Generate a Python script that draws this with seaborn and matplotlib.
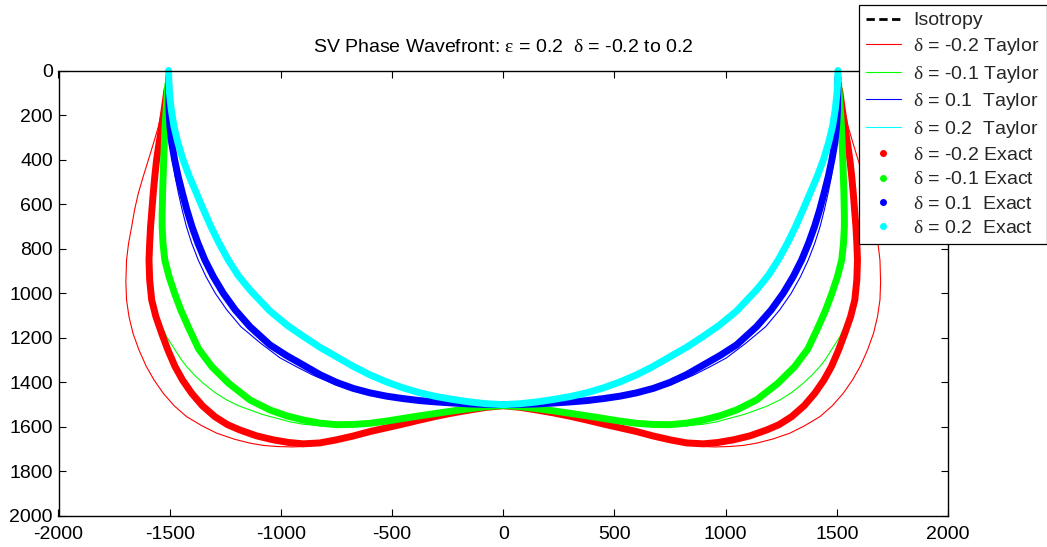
import matplotlib
matplotlib.use('Agg')
import matplotlib.pyplot as plt
import seaborn as sns
import pandas as pd
from matplotlib.lines import Line2D

# ---------------- data ----------------
# delta = 0.2 (cyan) - exact and Taylor coincide
cyan_x = [-1505, -1504, -1501, -1493, -1481, -1463, -1440, -1412, -1380, -1348,
          -1315, -1278, -1237, -1192, -1139, -1049, -970, -900, -825, -750,
          -675, -600, -525, -450, -375, -300, -225, -150, -75, 0] + \
         [75, 150, 225, 300, 375, 450, 525, 600, 675, 750, 825, 900, 970, 1049, 1139,
          1192, 1237, 1278, 1315, 1348, 1380, 1412, 1440, 1463, 1481, 1493, 1501, 1504, 1505]
cyan_z = [0, 50, 100, 175, 250, 325, 400, 475, 550, 625,
          700, 775, 850, 920, 985, 1080, 1145, 1193, 1242, 1285,
          1328, 1366, 1398, 1425, 1447, 1464, 1477, 1488, 1496, 1500] + \
         [1496, 1488, 1477, 1464, 1447, 1425, 1398, 1366, 1328, 1285, 1242, 1193, 1145, 1080, 985,
          920, 850, 775, 700, 625, 550, 475, 400, 325, 250, 175, 100, 50, 0]

# delta = 0.1 (blue) exact
blue_x = [-1505, -1504, -1503, -1499, -1491, -1478, -1462, -1443, -1423, -1400,
          -1373, -1342, -1304, -1259, -1205, -1139, -1049, -974, -900, -825,
          -750, -675, -600, -525, -450, -375, -300, -225, -150, -75, 0] + \
         [75, 150, 225, 300, 375, 450, 525, 600, 675, 750, 825, 900, 974, 1049, 1139,
          1205, 1259, 1304, 1342, 1373, 1400, 1423, 1443, 1462, 1478, 1491, 1499, 1503, 1504, 1505]
blue_z = [30, 100, 175, 250, 325, 400, 475, 550, 625, 700,
          775, 850, 925, 1000, 1075, 1150, 1232, 1280, 1322, 1365,
          1400, 1427, 1447, 1462, 1473, 1482, 1488, 1493, 1497, 1499, 1500] + \
         [1499, 1497, 1493, 1488, 1482, 1473, 1462, 1447, 1427, 1400, 1365, 1322, 1280, 1232, 1150,
          1075, 1000, 925, 850, 775, 700, 625, 550, 475, 400, 325, 250, 175, 100, 30]
# delta = 0.1 (blue) Taylor
blue_t_x = [-1505, -1505, -1505, -1502, -1497, -1488, -1476, -1461, -1444, -1425,
            -1401, -1372, -1337, -1295, -1243, -1180, -1090, -1004, -930, -855,
            -750, -675, -600, -525, -450, -375, -300, -225, -150, -75, 0] + \
           [75, 150, 225, 300, 375, 450, 525, 600, 675, 750, 855, 930, 1004, 1090, 1180,
            1243, 1295, 1337, 1372, 1401, 1425, 1444, 1461, 1476, 1488, 1497, 1502, 1505, 1505, 1505]
blue_t_z = [30, 100, 175, 250, 325, 400, 475, 550, 625, 700,
            775, 850, 925, 1000, 1075, 1150, 1225, 1290, 1330, 1368,
            1412, 1437, 1455, 1468, 1477, 1484, 1489, 1494, 1497, 1499, 1500] + \
           [1499, 1497, 1494, 1489, 1484, 1477, 1468, 1455, 1437, 1412, 1368, 1330, 1290, 1225, 1150,
            1075, 1000, 925, 850, 775, 700, 625, 550, 475, 400, 325, 250, 175, 100, 30]

# delta = -0.1 (green) exact
green_x = [-1508, -1514, -1521, -1527, -1532, -1534, -1534, -1530, -1522, -1503,
           -1478, -1450, -1417, -1370, -1310, -1235, -1139, -1049, -975, -900,
           -825, -750, -675, -600, -525, -450, -375, -300, -225, -150, -75, 0] + \
          [75, 150, 225, 300, 375, 450, 525, 600, 675, 750, 825, 900, 975, 1049, 1139,
           1235, 1310, 1370, 1417, 1450, 1478, 1503, 1522, 1530, 1534, 1534, 1532, 1527, 1521, 1514, 1508]
green_z = [60, 147, 252, 402, 551, 650, 701, 776, 851, 925,
           1000, 1075, 1150, 1250, 1330, 1404, 1479, 1524, 1550, 1569,
           1583, 1590, 1589, 1584, 1574, 1562, 1550, 1539, 1528, 1518, 1509, 1504] + \
          [1509, 1518, 1528, 1539, 1550, 1562, 1574, 1584, 1589, 1590, 1583, 1569, 1550, 1524, 1479,
           1404, 1330, 1250, 1150, 1075, 1000, 925, 851, 776, 701, 650, 551, 402, 252, 147, 60]
# delta = -0.1 (green) Taylor
green_t_x = [-1508, -1520, -1535, -1543, -1551, -1563, -1574, -1586, -1596, -1600,
             -1601, -1597, -1589, -1573, -1552, -1534, -1514, -1476, -1450, -1424,
             -1386, -1349, -1298, -1244, -1190, -1139, -1080, -1019, -960, -900,
             -825, -750, -675, -600, -525, -450, -375, -300, -225, -150, -75, 0] + \
            [75, 150, 225, 300, 375, 450, 525, 600, 675, 750, 825, 900, 960, 1019, 1080,
             1139, 1190, 1244, 1298, 1349, 1386, 1424, 1450, 1476, 1514, 1534, 1552, 1573, 1589, 1597,
             1601, 1600, 1596, 1586, 1574, 1563, 1551, 1543, 1535, 1520, 1508]
green_t_z = [60, 150, 250, 326, 402, 476, 551, 626, 701, 776,
             851, 925, 1000, 1055, 1105, 1150, 1195, 1254, 1295, 1329,
             1370, 1404, 1445, 1479, 1505, 1524, 1545, 1561, 1577, 1588,
             1595, 1596, 1592, 1586, 1575, 1562, 1550, 1539, 1528, 1518, 1509, 1504] + \
            [1509, 1518, 1528, 1539, 1550, 1562, 1575, 1586, 1592, 1596, 1595, 1588, 1577, 1561, 1545,
             1524, 1505, 1479, 1445, 1404, 1370, 1329, 1295, 1254, 1195, 1150, 1105, 1055, 1000, 925,
             851, 776, 701, 626, 551, 476, 402, 326, 250, 150, 60]

# delta = -0.2 (red) exact
red_x = [-1512, -1524, -1536, -1548, -1559, -1567, -1574, -1580, -1586, -1590,
         -1593, -1590, -1581, -1562, -1536, -1508, -1476, -1442, -1401, -1353,
         -1297, -1240, -1184, -1110, -1035, -965, -900, -825, -750, -675,
         -600, -525, -450, -375, -300, -225, -150, -75, 0] + \
        [75, 150, 225, 300, 375, 450, 525, 600, 675, 750, 825, 900, 965, 1035, 1110,
         1184, 1240, 1297, 1353, 1401, 1442, 1476, 1508, 1536, 1562, 1581, 1590, 1593, 1590, 1586,
         1580, 1574, 1567, 1559, 1548, 1536, 1524, 1512]
red_z = [85, 170, 252, 327, 402, 476, 551, 626, 701, 776,
         851, 940, 1030, 1105, 1180, 1255, 1329, 1390, 1449, 1505,
         1554, 1590, 1614, 1640, 1658, 1670, 1676, 1672, 1658, 1641,
         1621, 1604, 1587, 1569, 1552, 1537, 1524, 1512, 1505] + \
        [1512, 1524, 1537, 1552, 1569, 1587, 1604, 1621, 1641, 1658, 1672, 1676, 1670, 1658, 1640,
         1614, 1590, 1554, 1505, 1449, 1390, 1329, 1255, 1180, 1105, 1030, 940, 851, 776, 701,
         626, 551, 476, 402, 327, 252, 170, 85]
# delta = -0.2 (red) Taylor
red_t_x = [-1517, -1532, -1551, -1573, -1596, -1619, -1641, -1658, -1671, -1685,
           -1694, -1697, -1694, -1683, -1665, -1638, -1605, -1570, -1529, -1480,
           -1424, -1355, -1289, -1210, -1139, -1080, -1019, -950, -900, -825,
           -750, -675, -600, -525, -450, -375, -300, -225, -150, -75, 0] + \
          [75, 150, 225, 300, 375, 450, 525, 600, 675, 750, 825, 900, 950, 1019, 1080,
           1139, 1210, 1289, 1355, 1424, 1480, 1529, 1570, 1605, 1638, 1665, 1683, 1694, 1697, 1694,
           1685, 1671, 1658, 1641, 1619, 1596, 1573, 1551, 1532, 1517]
red_t_z = [79, 165, 252, 327, 402, 476, 551, 626, 701, 776,
           851, 950, 1030, 1105, 1180, 1255, 1329, 1390, 1449, 1505,
           1554, 1595, 1628, 1655, 1673, 1683, 1688, 1690, 1688, 1680,
           1664, 1645, 1623, 1606, 1588, 1570, 1553, 1538, 1524, 1512, 1505] + \
          [1512, 1524, 1538, 1553, 1570, 1588, 1606, 1623, 1645, 1664, 1680, 1688, 1690, 1688, 1683,
           1673, 1655, 1628, 1595, 1554, 1505, 1449, 1390, 1329, 1255, 1180, 1105, 1030, 950, 851,
           776, 701, 626, 551, 476, 402, 327, 252, 165, 79]

labels_taylor = ['-0.2 Taylor', '-0.1 Taylor', '0.1  Taylor', '0.2  Taylor']
labels_exact = ['-0.2 Exact', '-0.1 Exact', '0.1  Exact', '0.2  Exact']
colors = ['#ff0000', '#00ff00', '#0000ff', '#00ffff']
x_ticks = [-2000, -1500, -1000, -500, 0, 500, 1000, 1500, 2000]
y_ticks = [0, 200, 400, 600, 800, 1000, 1200, 1400, 1600, 1800, 2000]
title_text = r'SV Phase Wavefront: $\mathrm{\varepsilon}$ = 0.2  $\mathrm{\delta}$ = -0.2 to 0.2'

# ---------------- style ----------------
sns.set_theme(style='white')
plt.rcParams['font.family'] = ['Liberation Sans', 'DejaVu Sans']
plt.rcParams['mathtext.fontset'] = 'custom'
plt.rcParams['mathtext.rm'] = 'Liberation Serif'
plt.rcParams['mathtext.it'] = 'Liberation Serif:italic'
plt.rcParams['axes.unicode_minus'] = False

fig = plt.figure(figsize=(10.47, 5.47), dpi=100)
ax = fig.add_axes([58.5 / 1047, 1 - 516 / 547, 889.5 / 1047, 445.5 / 547])

taylor = [(red_t_x, red_t_z), (green_t_x, green_t_z), (blue_t_x, blue_t_z), (cyan_x, cyan_z)]
exact = [(red_x, red_z), (green_x, green_z), (blue_x, blue_z), (cyan_x, cyan_z)]

for (xs, zs), c in zip(taylor, colors):
    df = pd.DataFrame({'x': xs, 'z': zs})
    sns.lineplot(data=df, x='x', y='z', sort=False, estimator=None, ax=ax,
                 color=c, lw=0.8, legend=False)
for (xs, zs), c in zip(exact, colors):
    df = pd.DataFrame({'x': xs, 'z': zs})
    sns.lineplot(data=df, x='x', y='z', sort=False, estimator=None, ax=ax,
                 color=c, lw=5, legend=False, solid_capstyle='round',
                 solid_joinstyle='round', clip_on=False)

ax.set_xlim(-2000, 2000)
ax.set_ylim(2000, 0)
ax.set_xticks(x_ticks)
ax.set_yticks(y_ticks)
ax.set_xlabel('')
ax.set_ylabel('')
for s in ax.spines.values():
    s.set_color('black')
    s.set_linewidth(1.0)
ax.tick_params(direction='in', length=5, width=0.8, top=True, right=True,
               bottom=True, left=True, labelsize=14, colors='black')
ax.tick_params(axis='x', pad=7)
ax.tick_params(axis='y', pad=4)

fig.text(503 / 1047, 1 - 47 / 547, title_text, ha='center', va='center',
         fontsize=14, color='black')

handles = [Line2D([], [], color='black', ls='--', lw=2, dashes=(3, 1.6))]
labels = ['Isotropy']
for c, l in zip(colors, labels_taylor):
    handles.append(Line2D([], [], color=c, lw=0.8))
    labels.append(r'$\mathrm{\delta}$ = ' + l)
for c, l in zip(colors, labels_exact):
    handles.append(Line2D([], [], color=c, ls='none', marker='o', ms=4))
    labels.append(r'$\mathrm{\delta}$ = ' + l)

leg = fig.legend(handles, labels, loc='upper right',
                 bbox_to_anchor=(1046.5 / 1047, 1 - 5 / 547),
                 bbox_transform=fig.transFigure, frameon=True, fancybox=False,
                 framealpha=1, edgecolor='black', fontsize=14, borderaxespad=0,
                 handlelength=1.8, handletextpad=0.65, labelspacing=0.34,
                 borderpad=0.35)
leg.get_frame().set_linewidth(0.9)

fig.savefig('out.png', dpi=100)
